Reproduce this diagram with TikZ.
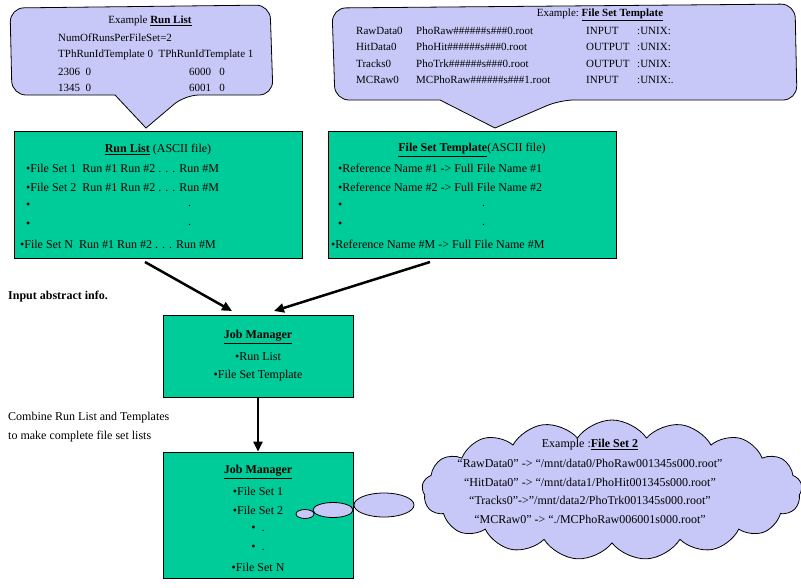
\documentclass[tikz,border=0pt]{standalone}
\usepackage{fontspec}
\setmainfont{Liberation Serif}
\usetikzlibrary{shapes.symbols,arrows.meta,calc}
\definecolor{boxg}{HTML}{00CC99}
\definecolor{lav}{HTML}{C8C8F8}
\begin{document}
\begin{tikzpicture}[x=1pt,y=-1pt,
  box/.style={draw=black,fill=boxg,line width=0.8pt},
  bub/.style={draw=black,fill=lav,line width=0.8pt},
  t/.style={inner sep=0pt,anchor=west,font=\fontsize{12}{14}\selectfont},
  ts/.style={inner sep=0pt,anchor=west,font=\fontsize{11}{13}\selectfont},
  ct/.style={inner sep=0pt,anchor=center,font=\fontsize{12}{14}\selectfont},
  arr/.style={-{Triangle[length=10pt,width=9pt]},line width=2.5pt}]
\useasboundingbox (0,0) rectangle (801,587);
% callout 1
\draw[bub,rounded corners=14pt] (115,95) -- (12,95) -- (10,8) -- (270,5) -- (273,95) -- (185,95) [sharp corners]-- (146,128) -- cycle;
\node[ct,font=\fontsize{11}{13}\selectfont] (c1t) at (150,21) {Example \underline{\textbf{Run List}}};
\node[ts] (c1a) at (58,38) {NumOfRunsPerFileSet=2};
\node[ts] (c1b) at (58,55) {TPhRunIdTemplate 0\ \ TPhRunIdTemplate 1};
\node[ts] (c1c) at (58,72) {2306\ \ 0};
\node[ts] (c1d) at (189,72) {6000\ \ \ 0};
\node[ts] (c1e) at (58,88) {1345\ \ 0};
\node[ts] (c1f) at (189,88) {6001\ \ \ 0};
% callout 2
\draw[bub,rounded corners=14pt] (440,100) -- (335,100) -- (332,8) -- (795,4) -- (797,100) -- (560,100) [sharp corners]-- (495,128) -- cycle;
\node[ct,font=\fontsize{11}{13}\selectfont] (c2t) at (600,15) {Example:\ \underline{\textbf{File Set Template}}};
\foreach \y/\a/\b/\c/\d [count=\i] in {31/RawData0/PhoRaw\#\#\#\#\#\#s\#\#\#0.root/INPUT/:UNIX:/mnt/data0,
  47/HitData0/PhoHit\#\#\#\#\#\#s\#\#\#0.root/OUTPUT/:UNIX:/mnt/data1,
  64/Tracks0/PhoTrk\#\#\#\#\#\#s\#\#\#0.root/OUTPUT/:UNIX:/mnt/data2,
  80/MCRaw0/MCPhoRaw\#\#\#\#\#\#s\#\#\#1.root/INPUT/:UNIX:./}{
  \node[ts] (ra\i) at (356,\y) {\a};
  \node[ts] (rb\i) at (416,\y) {\b};
  \node[ts] (rc\i) at (586,\y) {\c};
  \node[ts] (rd\i) at (637,\y) {\d};
}
% boxes
\node[box,minimum width=288pt,minimum height=127pt,inner sep=0pt] (rl) at (158,194.5) {};
\node[box,minimum width=288pt,minimum height=127pt,inner sep=0pt] (fst) at (472,194.5) {};
\node[box,minimum width=190pt,minimum height=82pt,inner sep=0pt] (jm1) at (258,356) {};
\node[box,minimum width=190pt,minimum height=126pt,inner sep=0pt] (jm2) at (258,515) {};
% run list text
\node[ct] (rlt) at (158,150) {\underline{\textbf{Run List}} (ASCII file)};
\node[t] (rl1) at (26,168) {•File Set 1\ \ Run \#1 Run \#2 . . . Run \#M};
\node[t] (rl2) at (26,187) {•File Set 2\ \ Run \#1 Run \#2 . . . Run \#M};
\node[t] (rl3) at (26,206) {•};
\node[t] (rl3b) at (188,206) {.};
\node[t] (rl4) at (26,225) {•};
\node[t] (rl4b) at (188,225) {.};
\node[t] (rl5) at (20,244) {•File Set N\ \ Run \#1 Run \#2 . . . Run \#M};
% fst text
\node[ct] (fstt) at (472,150) {\underline{\textbf{File Set Template}}(ASCII file)};
\node[t] (f1) at (338,168) {•Reference Name \#1 -> Full File Name \#1};
\node[t] (f2) at (338,187) {•Reference Name \#2 -> Full File Name \#2};
\node[t] (f3) at (338,206) {•};
\node[t] (f3b) at (482,206) {.};
\node[t] (f4) at (338,225) {•};
\node[t] (f4b) at (482,225) {.};
\node[t] (f5) at (331,244) {•Reference Name \#M -> Full File Name \#M};
% jm1
\node[ct] (j1t) at (258,337) {\underline{\textbf{Job Manager}}};
\node[ct] (j1a) at (258,357) {•Run List};
\node[ct] (j1b) at (258,376) {•File Set Template};
% jm2
\node[ct] (j2t) at (258,472) {\underline{\textbf{Job Manager}}};
\node[ct] (j2a) at (258,491) {•File Set 1};
\node[ct] (j2b) at (258,510) {•File Set 2};
\node[ct] (j2c) at (258,529) {•\ \ .};
\node[ct] (j2d) at (258,548) {•\ \ .};
\node[ct] (j2e) at (258,567) {•File Set N};
% labels
\node[t,font=\fontsize{12}{14}\selectfont\bfseries] (lab1) at (8,297) {Input abstract info.};
\node[t] (lab2) at (8,418) {Combine Run List and Templates};
\node[t] (lab3) at (8,437) {to make complete file set lists};
% arrows
\coordinate (a1s) at (145,262); \coordinate (a1e) at (232,311);
\coordinate (a2s) at (430,262); \coordinate (a2e) at (274,311);
\draw[arr] (a1s) -- (a1e);
\draw[arr] (a2s) -- (a2e);
\draw[arr] (jm1.south) -- (jm2.north);
% thought bubbles
\draw[bub] (305,514) ellipse (9pt and 4.5pt);
\draw[bub] (333,510) ellipse (20pt and 7.5pt);
\draw[bub] (384,505) ellipse (30pt and 12pt);
\node[cloud,cloud puffs=17,cloud puff arc=110,aspect=2.6,bub,minimum width=380pt,minimum height=140pt,inner sep=0pt] (cl) at (612,490) {};
\node[ct] (clt) at (590,445) {Example :\underline{\textbf{File Set 2}}};
\node[ct] (cl1) at (590,463) {“RawData0” -> “/mnt/data0/PhoRaw001345s000.root”};
\node[ct] (cl2) at (590,482) {“HitData0” -> “/mnt/data1/PhoHit001345s000.root”};
\node[ct] (cl3) at (590,500) {“Tracks0”->”/mnt/data2/PhoTrk001345s000.root”};
\node[ct] (cl4) at (590,519) {“MCRaw0” -> “./MCPhoRaw006001s000.root”};
\end{tikzpicture}
\end{document}
